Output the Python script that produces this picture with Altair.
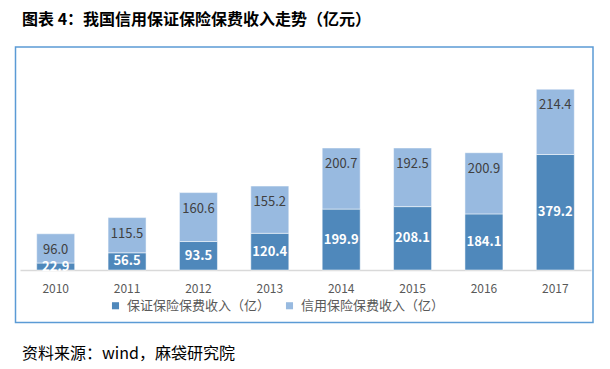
import altair as alt
import pandas as pd

years = ["2010", "2011", "2012", "2013", "2014", "2015", "2016", "2017"]
guarantee = [22.9, 56.5, 93.5, 120.4, 199.9, 208.1, 184.1, 379.2]
credit = [96.0, 115.5, 160.6, 155.2, 200.7, 192.5, 200.9, 214.4]
series_names = ["保证保险保费收入（亿）", "信用保险保费收入（亿）"]
title_text = "图表 4：我国信用保证保险保费收入走势（亿元）"
source_text = "资料来源：wind，麻袋研究院"

DARK = "#4F88BB"
LIGHT = "#98BAE0"
FONT = "Noto Sans CJK SC"

rows = []
for y, g, c in zip(years, guarantee, credit):
    rows.append({"year": y, "series": series_names[0], "value": g, "ord": 0})
    rows.append({"year": y, "series": series_names[1], "value": c, "ord": 1})
df = pd.DataFrame(rows)

lab_dark = pd.DataFrame({
    "year": years,
    "pos": [g / 2 for g in guarantee],
    "label": [f"{g:.1f}" for g in guarantee],
})
lab_light = pd.DataFrame({
    "year": years,
    "pos": [g + c for g, c in zip(guarantee, credit)],
    "label": [f"{c:.1f}" for c in credit],
})

x_enc = alt.X(
    "year:N",
    sort=years,
    scale=alt.Scale(paddingInner=0, paddingOuter=0),
    axis=alt.Axis(
        title=None, labelAngle=0, domainColor="#D9D9D9", domainWidth=1.5,
        ticks=False, labelFontSize=12, labelColor="#595959", labelFont=FONT,
        labelPadding=13, grid=False,
    ),
)
y_scale = alt.Scale(domain=[0, 650])

bars = alt.Chart(df).mark_bar(
    size=38, stroke="#ffffff", strokeOpacity=0.5, strokeWidth=1
).encode(
    x=x_enc,
    y=alt.Y("value:Q", stack="zero", scale=y_scale, axis=None),
    color=alt.Color(
        "series:N",
        scale=alt.Scale(domain=series_names, range=[DARK, LIGHT]),
        legend=alt.Legend(
            orient="none", legendX=89, legendY=227, direction="horizontal",
            title=None, symbolType="square", symbolSize=50, symbolStrokeWidth=0,
            labelFontSize=13, labelColor="#595959", labelFont=FONT,
            columnPadding=12, labelOffset=5, labelLimit=300, padding=0,
        ),
    ),
    order=alt.Order("ord:Q"),
)

t_dark = alt.Chart(lab_dark).mark_text(
    color="white", fontWeight="bold", fontSize=13, font=FONT, baseline="middle"
).encode(
    x=alt.X("year:N", sort=years),
    y=alt.Y("pos:Q", scale=y_scale),
    text="label:N",
)

t_light = alt.Chart(lab_light).mark_text(
    color="#404040", fontSize=13, font=FONT, baseline="middle", dy=16
).encode(
    x=alt.X("year:N", sort=years),
    y=alt.Y("pos:Q", scale=y_scale),
    text="label:N",
)

frame = alt.Chart(pd.DataFrame({"k": [0]})).mark_rect(
    fillOpacity=0, stroke="#5B9BD5", strokeWidth=1.5
).encode(
    x=alt.value(-4.5), x2=alt.value(573), y=alt.value(-25), y2=alt.value(250.5)
)

title = alt.Chart(pd.DataFrame({"t": [title_text]})).mark_text(
    align="left", baseline="middle", fontSize=16, fontWeight="bold",
    font=FONT, color="#000000"
).encode(x=alt.value(2), y=alt.value(-52), text="t:N")

source = alt.Chart(pd.DataFrame({"t": [source_text]})).mark_text(
    align="left", baseline="middle", fontSize=16, font=FONT, color="#000000"
).encode(x=alt.value(2), y=alt.value(282), text="t:N")

chart = alt.layer(frame, bars, t_dark, t_light, title, source).properties(
    width=571,
    height=198,
    padding={"left": 12, "top": 64, "right": 8, "bottom": 100},
    autosize=alt.AutoSizeParams(type="none"),
).configure_view(stroke=None)

chart.save("out.html", embed_options={"renderer": "svg", "actions": False})
